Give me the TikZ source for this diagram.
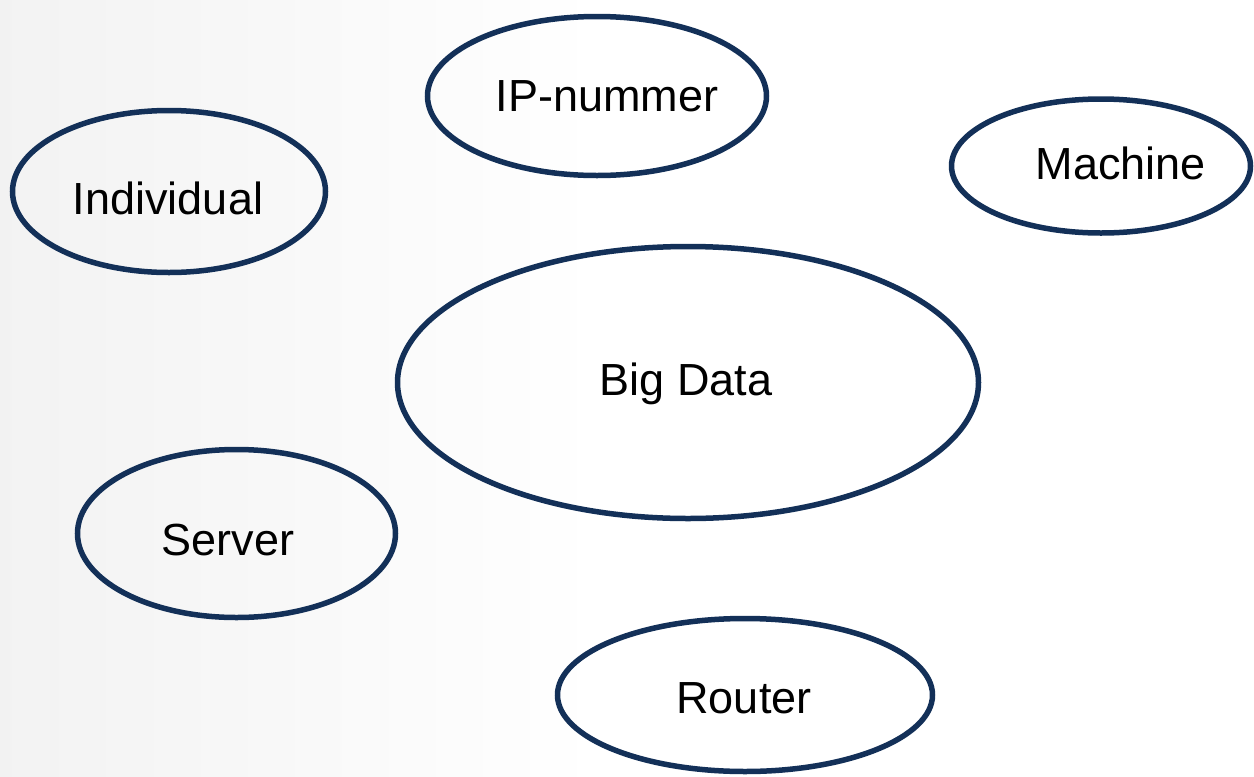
\documentclass[tikz,border=0pt]{standalone}
\usepackage{fontspec}
\setmainfont{Liberation Sans}
\usetikzlibrary{shapes.geometric}
\definecolor{navy}{RGB}{19,48,88}
\tikzset{
  bubble/.style={ellipse, draw=navy, line width=5.5pt, inner sep=0pt},
  lbl/.style={font=\fontsize{45}{54}\selectfont, text=black, inner sep=0pt, anchor=center}
}
\begin{document}
\begin{tikzpicture}[x=1pt,y=-1pt]
\useasboundingbox (0,0) rectangle (1254,777);
\fill[white] (0,0) rectangle (1254,777);
\shade[left color=black!5, right color=white] (0,0) rectangle (600,777);
\node[bubble, minimum width=339pt, minimum height=159pt] (ip) at (597,96) {};
\node[bubble, minimum width=313pt, minimum height=162pt] (ind) at (169,191.5) {};
\node[bubble, minimum width=299pt, minimum height=134pt] (mach) at (1101,166) {};
\node[bubble, minimum width=581pt, minimum height=272pt] (big) at (688,382.5) {};
\node[bubble, minimum width=318pt, minimum height=168pt] (srv) at (236.5,533.5) {};
\node[bubble, minimum width=375pt, minimum height=153pt] (rtr) at (745,695) {};
\node[lbl] (tip) at (607,96) {IP-nummer};
\node[lbl] (tind) at (168,198) {Individual};
\node[lbl] (tmach) at (1121,163) {Machine};
\node[lbl] (tbig) at (686,384) {Big Data};
\node[lbl] (tsrv) at (228,540) {Server};
\node[lbl] (trtr) at (744,698) {Router};
\end{tikzpicture}
\end{document}
